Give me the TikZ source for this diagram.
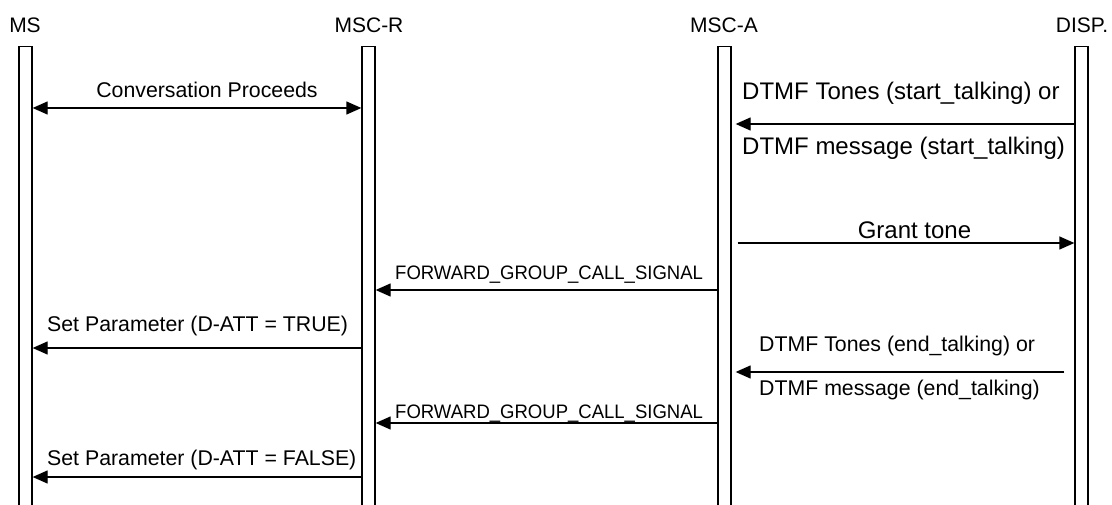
\documentclass[tikz,border=0pt]{standalone}
\usepackage{fontspec}
\usepackage{graphicx}
\setmainfont{Liberation Sans}
\usetikzlibrary{arrows.meta}
\tikzset{
  bar/.style={draw=black, fill=white, line width=1.3pt, minimum width=13pt, minimum height=470pt, inner sep=0pt, anchor=north},
  hdr/.style={inner sep=0pt, anchor=base, font=\fontsize{21}{25}\selectfont},
  lbl/.style={inner sep=0pt, anchor=base west, font=\fontsize{21.3}{25}\selectfont},
  biglbl/.style={inner sep=0pt, anchor=base west, font=\fontsize{24}{28}\selectfont},
  fwdlbl/.style={inner sep=0pt, anchor=base west, font=\fontsize{19.5}{23}\selectfont},
  msg/.style={line width=1.3pt, -{Triangle[length=15pt,width=13pt]}},
  dmsg/.style={line width=1.3pt, {Triangle[length=15pt,width=13pt]}-{Triangle[length=15pt,width=13pt]}},
}
\begin{document}
\begin{tikzpicture}[x=1pt,y=-1pt]
\useasboundingbox (0,0) rectangle (1112,505);
% lifelines
\node[bar] (ms)   at (25.5,46) {};
\node[bar] (mscr) at (368.5,46) {};
\node[bar] (msca) at (724.5,46) {};
\node[bar] (disp) at (1081.5,46) {};
% headers
\node[hdr] (hms)   at (25,33) {MS};
\node[hdr] (hmscr) at (369,33) {MSC-R};
\node[hdr] (hmsca) at (724,33) {MSC-A};
\node[hdr] (hdisp) at (1082,33) {DISP.};
% Conversation Proceeds
\node[lbl, anchor=base] (t1) at (207,98) {Conversation Proceeds};
\draw[dmsg] (ms.east |- 0,108) -- (mscr.west |- 0,108);
% DTMF start
\node[biglbl] (t2a) at (742,100) {DTMF Tones (start\_talking) or};
\node[biglbl] (t2b) at (742,155) {DTMF message (start\_talking)};
\draw[msg] (disp.west |- 0,124) -- ([xshift=4pt]msca.east |- 0,124);
% Grant tone
\node[biglbl, anchor=base] (t3) at (914.5,239) {Grant tone};
\draw[msg] ([xshift=6pt]msca.east |- 0,243) -- (disp.west |- 0,243);
% FORWARD 1
\node[fwdlbl] (t4) at (395,280) {\scalebox{0.95}[1]{FORWARD\_GROUP\_CALL\_SIGNAL}};
\draw[msg] (msca.west |- 0,290) -- (mscr.east |- 0,290);
% Set Parameter TRUE
\node[lbl] (t5) at (47,331) {Set Parameter (D-ATT = TRUE)};
\draw[msg] (mscr.west |- 0,348) -- (ms.east |- 0,348);
% DTMF end
\node[lbl] (t6a) at (759,352) {DTMF Tones (end\_talking) or};
\node[lbl] (t6b) at (759,395) {DTMF message (end\_talking)};
\draw[msg] ([xshift=-10pt]disp.west |- 0,372) -- ([xshift=4pt]msca.east |- 0,372);
% FORWARD 2
\node[fwdlbl] (t7) at (395,418) {\scalebox{0.95}[1]{FORWARD\_GROUP\_CALL\_SIGNAL}};
\draw[msg] (msca.west |- 0,423) -- (mscr.east |- 0,423);
% Set Parameter FALSE
\node[lbl] (t8) at (47,465) {Set Parameter (D-ATT = FALSE)};
\draw[msg] (mscr.west |- 0,477) -- (ms.east |- 0,477);
\end{tikzpicture}
\end{document}
